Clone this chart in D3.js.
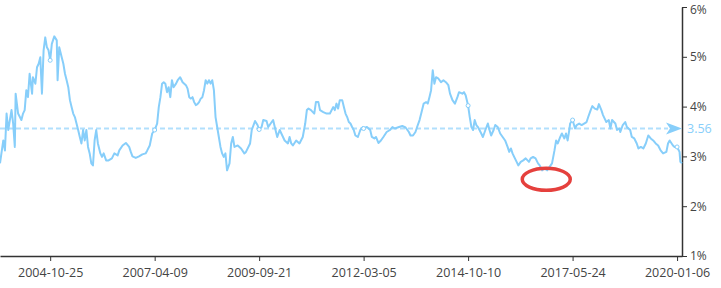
<!DOCTYPE html>
<html>
<head>
<meta charset="utf-8">
<script src="https://cdn.jsdelivr.net/npm/d3@7/dist/d3.min.js"></script>
<style>
body { margin: 0; background: #fff; }
text { font-family: "Open Sans", "Noto Sans", sans-serif; }
</style>
</head>
<body>
<script>
// category axis: one slot per week, labels every 127 weeks
var weekCount = 829;
var tickWeeks = [61, 188, 315, 442, 569, 696, 823];
var tickDates = ["2004-10-25", "2007-04-09", "2009-09-21", "2012-03-05", "2014-10-10", "2017-05-24", "2020-01-06"];
var yTicks = [1, 2, 3, 4, 5, 6];
var avgYield = 3.56;
var lowMark = { week: 664, value: 2.54 };

// [week index, yield %]
var yieldSeries = [
    [0,2.86],[4,3.32],[6,3.12],[8,3.86],[10,3.53],[14,3.93],[16,3.66],[18,3.19],[19,4.26],[22,3.86],[26,3.73],[28,3.86],[30,3.93],[32,4.33],[34,4.19],[36,4.66],[39,4.26],[40,4.59],[43,4.46],[45,4.79],[47,4.86],[49,4.99],[51,4.26],[53,5.13],[55,5.39],[57,5.19],[59,5.13],[61,4.93],[63,5.26],[66,5.41],[69,5.33],[70,4.53],[72,5.19],[75,4.99],[77,4.86],[79,4.66],[81,4.53],[83,4.39],[85,4.13],[87,3.99],[89,3.86],[91,3.79],[93,3.66],[95,3.53],[97,3.39],[99,3.26],[101,3.53],[103,3.32],[105,3.53],[107,3.19],[109,3.06],[111,2.86],[113,2.82],[115,3.32],[117,3.53],[119,3.26],[122,3.06],[124,2.99],[126,3.06],[129,2.92],[132,2.92],[136,2.96],
    [139,3.06],[143,3.02],[145,3.12],[149,3.22],[153,3.27],[157,3.19],[159,3.09],[161,3.00],[165,2.97],[169,3.00],[173,3.04],[177,3.06],[179,3.12],[182,3.22],[185,3.46],[188,3.53],[191,3.66],[193,3.99],[195,4.19],[197,4.46],[199,4.49],[201,4.46],[203,4.29],[205,4.39],[207,4.19],[209,4.53],[211,4.39],[214,4.46],[216,4.53],[219,4.59],[222,4.49],[224,4.46],[226,4.43],[228,4.36],[230,4.19],[232,4.16],[234,4.19],[236,4.09],[238,4.03],[240,4.05],[242,4.09],[244,4.16],[246,4.19],[248,4.33],[250,4.53],[252,4.46],[254,4.53],[256,4.46],[258,4.53],[260,4.33],[262,3.79],[264,3.59],[266,3.39],[268,3.19],[270,3.06],[272,2.99],[274,3.06],[276,2.72],
    [279,2.86],[281,3.26],[283,3.39],[285,3.19],[289,3.22],[293,3.16],[297,3.06],[299,3.09],[304,3.26],[306,3.53],[310,3.71],[313,3.63],[315,3.54],[318,3.59],[320,3.73],[324,3.71],[326,3.59],[329,3.66],[332,3.73],[334,3.59],[337,3.39],[340,3.53],[342,3.46],[346,3.32],[350,3.26],[352,3.39],[354,3.26],[356,3.22],[360,3.32],[364,3.26],[368,3.39],[371,3.66],[373,3.93],[375,3.96],[378,3.93],[382,3.86],[384,4.09],[387,4.09],[389,3.93],[393,3.89],[397,3.86],[401,3.86],[405,3.99],[407,3.93],[409,4.06],[411,3.96],[413,4.13],
    [416,4.13],[418,3.99],[420,3.86],[422,3.79],[424,3.69],[426,3.66],[428,3.59],[430,3.53],[432,3.42],[435,3.39],[438,3.53],[441,3.59],[442,3.56],[446,3.59],[450,3.53],[452,3.39],[455,3.36],[457,3.39],[460,3.27],[463,3.32],[466,3.39],[470,3.49],[474,3.53],[477,3.59],[480,3.56],[485,3.59],[489,3.61],[493,3.58],[497,3.49],[499,3.42],[502,3.42],[505,3.49],[507,3.59],[510,3.73],[512,3.86],[515,4.06],[518,4.09],[520,4.06],[522,4.19],[524,4.33],[526,4.73],[528,4.46],[530,4.59],[533,4.56],[536,4.49],[539,4.53],[542,4.49],[545,4.43],[547,4.26],[550,4.13],[553,4.06],
    [556,4.19],[558,4.29],[562,4.26],[564,4.29],[566,4.23],[569,4.02],[571,3.79],[573,3.59],[575,3.53],[577,3.73],[579,3.63],[581,3.59],[585,3.46],[587,3.39],[590,3.53],[593,3.66],[595,3.53],[597,3.42],[600,3.53],[602,3.63],[605,3.59],[608,3.46],[611,3.39],[614,3.32],[617,3.19],[619,3.09],[621,3.16],[623,3.06],[625,2.99],[628,2.89],[630,2.82],[633,2.89],[636,2.92],[639,2.96],[643,2.89],[645,2.96],[648,2.99],[651,2.96],[654,2.86],[656,2.82],[659,2.72],[662,2.76],[665,2.72],[668,2.79],[671,2.86],[674,3.12],[676,3.32],[678,3.26],[681,3.39],[683,3.46],[686,3.36],[688,3.46],[690,3.32],[692,3.53],
    [693,3.66],[696,3.73],[699,3.56],[701,3.63],[704,3.66],[707,3.63],[710,3.66],[713,3.69],[715,3.79],[718,3.93],[720,4.01],[723,3.96],[726,3.94],[728,4.05],[731,3.93],[733,3.83],[735,3.76],[737,3.69],[740,3.73],[742,3.56],[744,3.73],[748,3.66],[750,3.53],[753,3.56],[754,3.49],[757,3.63],[760,3.69],[762,3.59],[766,3.53],[768,3.39],[771,3.36],[774,3.26],[776,3.16],[779,3.19],[782,3.16],[785,3.26],[788,3.42],[791,3.36],[794,3.32],[797,3.26],[800,3.22],[803,3.12],[806,3.06],[810,3.09],[812,3.26],[814,3.32],[818,3.22],[820,3.19],[823,3.19],[826,3.09],[827,2.89],[829,2.86]
];

var margin = { top: 7, right: 39, bottom: 32, left: 0 };
var width = 721 - margin.left - margin.right,
    height = 288 - margin.top - margin.bottom;

var lineColor = "#87cefa";

var x = d3.scaleLinear().domain([0, weekCount]).range([0, width]);
var y = d3.scaleLinear().domain([1, 6]).range([height, 0]);

var svg = d3.select("body").append("svg")
    .attr("width", 721)
    .attr("height", 288)
    .append("g")
    .attr("transform", "translate(" + margin.left + "," + margin.top + ")");

// x axis
var xAxis = d3.axisBottom(x)
    .tickValues(tickWeeks)
    .tickFormat(function(d, i) { return tickDates[i]; })
    .tickSize(5)
    .tickSizeOuter(0)
    .tickPadding(7);

var gx = svg.append("g")
    .attr("transform", "translate(0," + height + ")")
    .call(xAxis);
gx.select(".domain").attr("stroke", "#333").attr("stroke-width", 1.5);
gx.selectAll(".tick line").attr("stroke", "#333");
gx.selectAll(".tick text").attr("fill", "#444").style("font-size", "12.5px");

// y axis on the right
var yAxis = d3.axisRight(y)
    .tickValues(yTicks)
    .tickFormat(function(d) { return d + "%"; })
    .tickSize(5)
    .tickSizeOuter(0)
    .tickPadding(3);

var gy = svg.append("g")
    .attr("transform", "translate(" + width + ",0)")
    .call(yAxis);
gy.select(".domain").attr("stroke", "#333").attr("stroke-width", 1.5);
gy.selectAll(".tick line").attr("stroke", "#333");
gy.selectAll(".tick text").attr("fill", "#444").style("font-size", "12px");
// nudge the top label so it stays inside the frame
gy.selectAll(".tick text").filter(function(d) { return d === 6; }).attr("dy", "0.5em");

// average mark line
var yAvg = y(avgYield);
svg.append("line")
    .attr("x1", 0)
    .attr("x2", width - 14)
    .attr("y1", yAvg)
    .attr("y2", yAvg)
    .attr("stroke", lineColor)
    .attr("stroke-opacity", 0.65)
    .attr("stroke-width", 2)
    .attr("stroke-dasharray", "5,3");

svg.append("path")
    .attr("d", "M" + width + "," + yAvg + " L" + (width - 16) + "," + (yAvg - 6) +
        " L" + (width - 12) + "," + yAvg + " L" + (width - 16) + "," + (yAvg + 6) + "Z")
    .attr("fill", lineColor);

svg.append("text")
    .attr("x", width + 5)
    .attr("y", yAvg)
    .attr("dy", "0.35em")
    .attr("fill", lineColor)
    .style("font-size", "12.5px")
    .text(avgYield.toFixed(2));

// the yield line
var line = d3.line()
    .x(function(d) { return x(d[0]); })
    .y(function(d) { return y(d[1]); });

svg.append("path")
    .datum(yieldSeries)
    .attr("fill", "none")
    .attr("stroke", lineColor)
    .attr("stroke-width", 2)
    .attr("stroke-linejoin", "round")
    .attr("d", line);

// hollow symbols where the labels sit
svg.selectAll(".dot")
    .data(yieldSeries.filter(function(d) { return tickWeeks.indexOf(d[0]) > -1; }))
    .enter().append("circle")
    .attr("class", "dot")
    .attr("cx", function(d) { return x(d[0]); })
    .attr("cy", function(d) { return y(d[1]); })
    .attr("r", 2)
    .attr("fill", "#fff")
    .attr("stroke", lineColor)
    .attr("stroke-width", 1);

// red ring around the low
svg.append("ellipse")
    .attr("cx", x(lowMark.week))
    .attr("cy", y(lowMark.value))
    .attr("rx", 24)
    .attr("ry", 11)
    .attr("fill", "none")
    .attr("stroke", "#e5403d")
    .attr("stroke-width", 3.5);
</script>
</body>
</html>
